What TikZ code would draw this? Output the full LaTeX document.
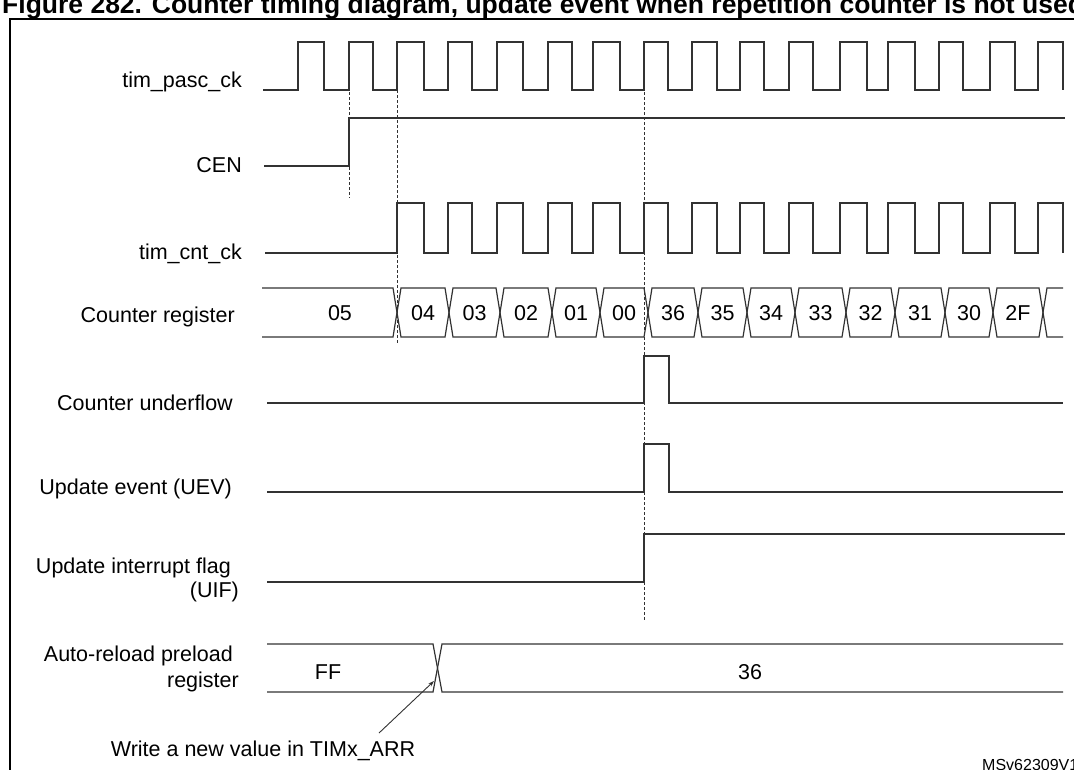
\documentclass[tikz,border=0pt]{standalone}
\usepackage{fontspec}
\setmainfont{Liberation Sans}
\usetikzlibrary{arrows.meta}
\definecolor{sig}{RGB}{50,50,50}
\tikzset{
  sigline/.style={draw=sig, line width=1.2pt, line join=miter},
  guide/.style={draw=sig, line width=0.9pt, dash pattern=on 3pt off 2pt},
  lbl/.style={anchor=east, inner sep=0pt, font=\fontsize{21.5}{24}\selectfont},
  val/.style={inner sep=0pt, font=\fontsize{21.5}{24}\selectfont},
  frameline/.style={draw=black, line width=2pt},
}
\begin{document}
\begin{tikzpicture}[x=1pt,y=-1pt]
\useasboundingbox (0,0) rectangle (1074,769);
% title (clipped at top)
\node[anchor=base west, inner sep=0pt, font=\fontsize{26.5}{30}\selectfont\bfseries] (title) at (2,13) {Figure 282. Counter timing diagram, update event when repetition counter is not used};
% frame
\draw[frameline] (1090,19) -- (10,19) -- (10,790);
% labels
\node[lbl] (lpasc) at (242,82) {tim\_pasc\_ck};
\node[lbl] (lcen) at (242,165) {CEN};
\node[lbl] (lcnt) at (242,254) {tim\_cnt\_ck};
\node[lbl] (lreg) at (235,317) {Counter register};
\node[lbl] (lund) at (233,403) {Counter underflow};
\node[lbl] (luev) at (232,489) {Update event (UEV)};
\node[lbl] (luif1) at (231,568) {Update interrupt flag};
\node[lbl] (luif2) at (239,592) {(UIF)};
\node[lbl] (larr1) at (233,656) {Auto-reload preload};
\node[lbl] (larr2) at (239,682) {register};
% tim_pasc_ck
\draw[sigline] (263,90) -- (298,90)
  \foreach \r/\f in {298/324,349/373,397/424,448/472,497/523,548/572,593/620,644/668,692/717,740/764,789/813,840/867,888/915,939/963,990/1015,1038/1063}
  { -- (\r,90) -- (\r,42) -- (\f,42) -- (\f,90) };
% CEN
\draw[sigline] (264,166) -- (349,166) -- (349,118) -- (1065,118);
% tim_cnt_ck
\draw[sigline] (265,253) -- (397,253)
  \foreach \r/\f in {397/424,448/472,497/523,548/572,593/620,644/668,692/717,740/764,789/813,840/867,888/915,939/963,990/1015,1038/1063}
  { -- (\r,253) -- (\r,203) -- (\f,203) -- (\f,253) };
% counter register
\draw[sigline] (262,288) -- (393,288) -- (397,312.5) -- (393,337) -- (262,337);
\foreach \a/\b in {397/449,449/500,500/552,552/600,600/648,648/698,698/747,747/795,795/846,846/895,895/945,945/993,993/1043}{
  \draw[sigline] (\a,312.5) -- (\a+4,288) -- (\b-4,288) -- (\b,312.5) -- (\b-4,337) -- (\a+4,337) -- cycle;
}
\draw[sigline] (1063,288) -- (1047,288) -- (1043,312.5) -- (1047,337) -- (1063,337);
\foreach \v/\x in {05/340,04/423,03/474.5,02/526,01/576,00/624,36/673,35/722.5,34/771,33/820.5,32/870.5,31/920,30/969,2F/1018}{
  \node[val] (v\v) at (\x,313) {\v};
}
% counter underflow
\draw[sigline] (267,403) -- (644,403) -- (644,356) -- (669,356) -- (669,403) -- (1063,403);
% UEV
\draw[sigline] (267,492) -- (644,492) -- (644,444) -- (669,444) -- (669,492) -- (1063,492);
% UIF
\draw[sigline] (267,582) -- (644,582) -- (644,534) -- (1065,534);
% auto-reload preload register
\draw[sigline] (267,644) -- (433,644) -- (442,692) -- (1063,692);
\draw[sigline] (267,692) -- (433,692) -- (442,644) -- (1063,644);
\node[val] (vff) at (328,672) {FF};
\node[val] (v36b) at (750,672) {36};
% guides
\draw[guide] (349,82) -- (349,198);
\draw[guide] (397,90) -- (397,343);
\draw[guide] (644,82) -- (644,621);
% annotation
\coordinate (xpt) at (434,681);
\node[val] (note) at (263,751) {Write a new value in TIMx\_ARR};
\coordinate (tail) at (379,733);
\draw[draw=sig, line width=0.9pt, -{Stealth[length=6pt,width=4pt]}] (tail) -- (xpt);
\node[anchor=base west, inner sep=0pt, font=\fontsize{16}{18}\selectfont] (ms) at (982,770) {MSv62309V1};
\end{tikzpicture}
\end{document}
